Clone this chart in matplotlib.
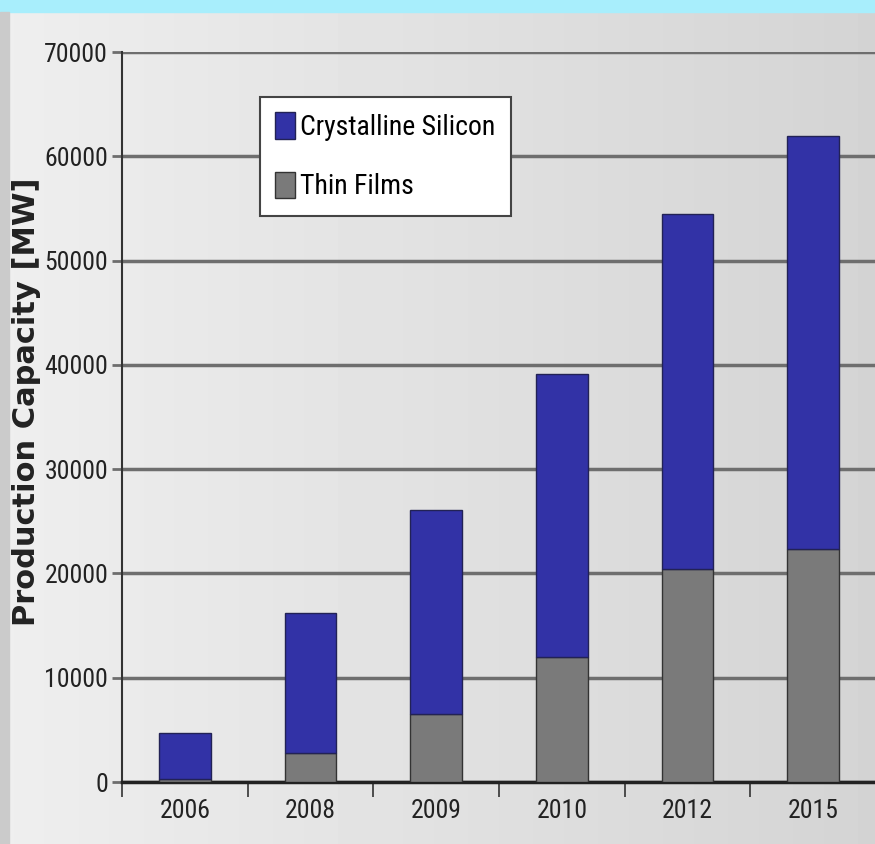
import numpy as np
import matplotlib.pyplot as plt
from matplotlib.patches import Rectangle

years = ["2006", "2008", "2009", "2010", "2012", "2015"]
thin_films = [300, 2800, 6500, 12000, 20400, 22300]
total_capacity = [4700, 16200, 26100, 39100, 54500, 61900]
crystalline = [t - f for t, f in zip(total_capacity, thin_films)]

blue = "#3232a6"
grey = "#7a7a7a"
narrow = ["Roboto Condensed", "Open Sans Condensed", "Noto Sans Condensed",
          "Liberation Sans Narrow", "Roboto", "DejaVu Sans"]

fig = plt.figure(figsize=(8.75, 8.44), dpi=100)

# light grey backdrop, a bit darker towards the right
bg = fig.add_axes([0, 0, 1, 1], zorder=-2)
grad = np.linspace(0.935, 0.83, 256).reshape(1, -1)
bg.imshow(grad, aspect="auto", cmap="gray", vmin=0, vmax=1, extent=[0, 1, 0, 1])
bg.set_axis_off()
fig.patches.append(Rectangle((0, 1 - 12 / 844), 1, 12 / 844, transform=fig.transFigure,
                             color="#a8eefc", zorder=5))
fig.patches.append(Rectangle((0, 0), 9 / 875, 1 - 12 / 844, transform=fig.transFigure,
                             color="#cbcbcb", zorder=5))

ax = fig.add_axes([122 / 875, 62 / 844, 754 / 875, 730 / 844])
ax.patch.set_alpha(0)
x = np.arange(len(years))
w = 0.41
ax.bar(x, thin_films, w, color=grey, edgecolor="#333333", linewidth=1, zorder=3,
       label="Thin Films")
ax.bar(x, crystalline, w, bottom=thin_films, color=blue, edgecolor="#222255",
       linewidth=1, zorder=3, label="Crystalline Silicon")

ax.set_xlim(-0.5, len(years) - 0.5)
ax.set_ylim(0, 70000)
ax.set_yticks(np.arange(0, 70001, 10000))
ax.yaxis.grid(True, color="#6e6e6e", linewidth=2.5, zorder=1)
ax.tick_params(axis="y", length=7, width=2, color="#6e6e6e", pad=3)
ax.set_xticks(x)
ax.set_xticklabels(years)
ax.set_xticks(np.arange(-0.5, len(years)), minor=True)
ax.tick_params(axis="x", which="major", length=0, pad=12)
ax.tick_params(axis="x", which="minor", length=11, width=1.2, color="#333333")
for lbl in ax.get_xticklabels() + ax.get_yticklabels():
    lbl.set_family(narrow)
    lbl.set_fontsize(18.5)
    lbl.set_color("#222222")

for side in ["top", "right"]:
    ax.spines[side].set_visible(False)
ax.spines["left"].set_color("#333333")
ax.spines["left"].set_linewidth(1.5)
ax.spines["bottom"].set_color("#222222")
ax.spines["bottom"].set_linewidth(2.5)

fig.text(27 / 875, 1 - 402 / 844, "Production Capacity [MW]", rotation=90,
         ha="center", va="center", fontsize=22, fontweight="bold", color="#222222")

handles, labels = ax.get_legend_handles_labels()
leg = ax.legend(handles[::-1], labels[::-1], loc="upper left",
                bbox_to_anchor=(138 / 754, 1 - 45 / 730),
                prop={"family": narrow, "size": 20},
                frameon=True, fancybox=False, edgecolor="#444444", framealpha=1,
                handlelength=0.7, handleheight=1.1, handletextpad=0.2,
                borderpad=0.55, labelspacing=1.1, borderaxespad=0)
leg.get_frame().set_facecolor("white")
leg.get_frame().set_linewidth(1.5)

fig.savefig("out.png", dpi=100)
